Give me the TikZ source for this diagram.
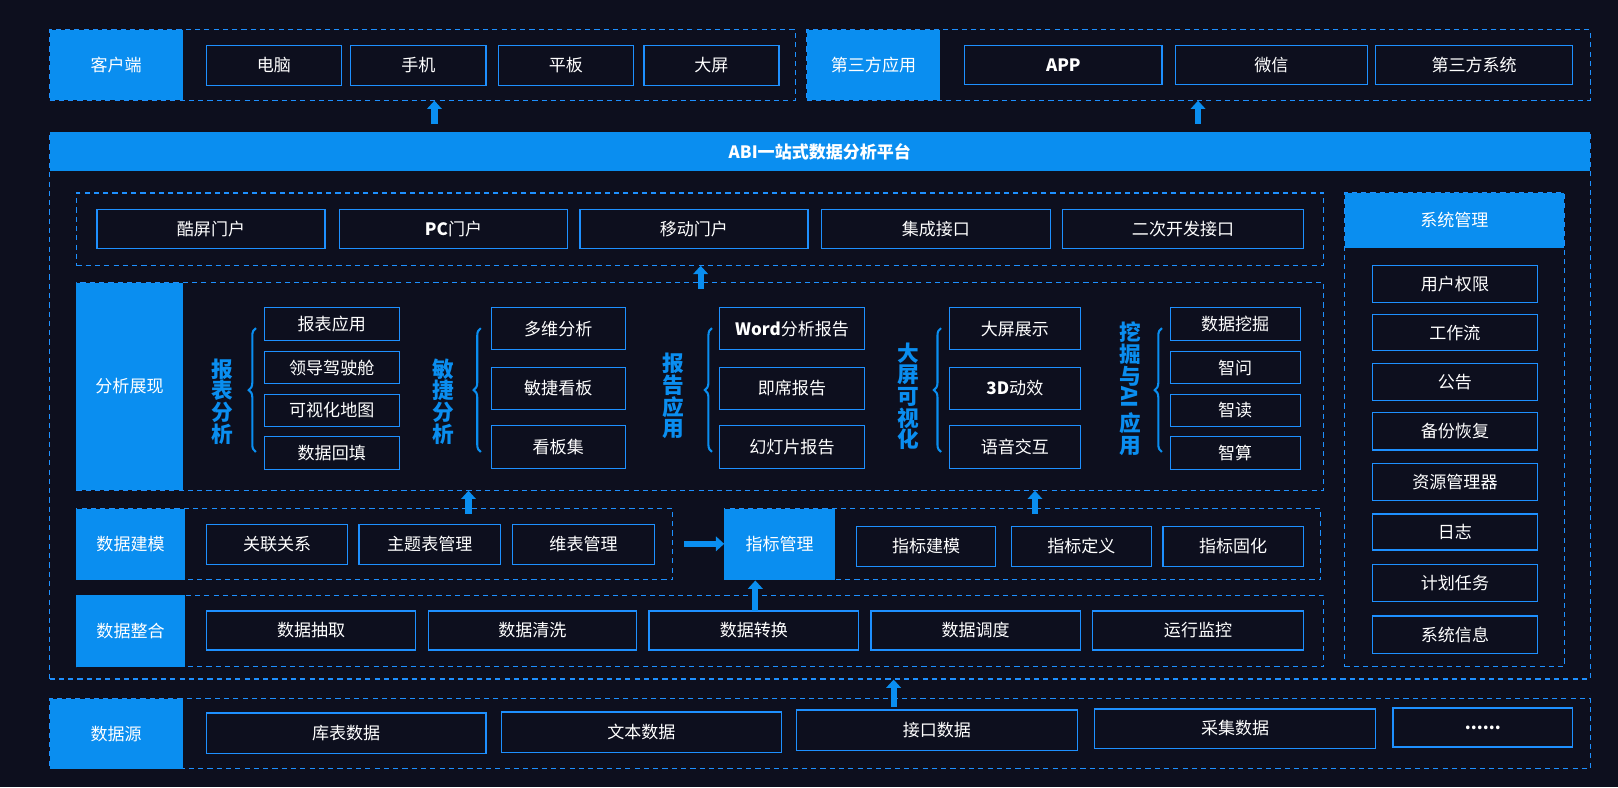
\documentclass[tikz,border=0pt]{standalone}
\usepackage{fontspec}
\setmainfont{Noto Sans CJK SC}
\usetikzlibrary{positioning, arrows.meta}
\definecolor{bgc}{HTML}{0D0F1E}
\definecolor{abl}{HTML}{0A8EF0}
\definecolor{lbl}{HTML}{1E90FF}
% box spanning (x1,y1)-(x2,y2)
\newcommand\bx[7]{\node[#1, minimum width=#4-#2, minimum height=#5-#3] (#7) at ({(#2+#4)/2},{(#3+#5)/2}) {#6};}
\tikzset{
  item/.style={draw=lbl, line width=1.2pt, fill=bgc, text=white, font=\fontsize{16.5}{18}\selectfont, inner sep=0pt},
  head/.style={fill=abl, text=white, font=\fontsize{16.5}{18}\selectfont, inner sep=0pt},
  frame/.style={draw=lbl, dashed, line width=1.1pt, dash pattern=on 5pt off 4pt, inner sep=0pt},
  vlab/.style={text=abl, font=\bfseries\fontsize{21}{21}\selectfont, align=center, inner sep=0pt},
  up/.style={-{Triangle[width=14pt,length=8pt]}, line width=6pt, abl},
  brc/.style={abl, line width=2pt, decorate}
}
\usetikzlibrary{decorations.pathreplacing}
\begin{document}
\begin{tikzpicture}[x=1pt, y=-1pt]
  \fill[bgc] (0,0) rectangle (1568,763);
  \useasboundingbox (0,0) rectangle (1568,763);

  % top row
  \bx{frame}{48}{29}{771}{97}{}{cf}
  \bx{head}{48}{29}{177}{97}{客户端}{client}
  \bx{item}{200}{44}{331}{83}{电脑}{pc}
  \bx{item}{340}{44}{471}{83}{手机}{phone}
  \bx{item}{483}{44}{614}{83}{平板}{pad}
  \bx{item}{624}{44}{755}{83}{大屏}{screen}
  \bx{frame}{782}{29}{1541}{97}{}{tf}
  \bx{head}{782}{29}{911}{97}{第三方应用}{third}
  \bx{item}{935}{44}{1126}{82}{\bfseries APP}{app}
  \bx{item}{1139}{44}{1325}{82}{微信}{wx}
  \bx{item}{1333}{44}{1524}{82}{第三方系统}{sys3}

  % platform
  \bx{frame}{48}{128}{1541}{658}{}{plat}
  \bx{head}{48}{128}{1541}{166}{\bfseries ABI一站式数据分析平台}{abi}

  % portals
  \bx{frame}{74}{187}{1283}{257}{}{portal}
  \bx{item}{94}{203}{315}{241}{酷屏门户}{p1}
  \bx{item}{329}{203}{550}{241}{\bfseries PC\mdseries 门户}{p2}
  \bx{item}{562}{203}{783}{241}{移动门户}{p3}
  \bx{item}{796}{203}{1018}{241}{集成接口}{p4}
  \bx{item}{1030}{203}{1263}{241}{二次开发接口}{p5}

  % analysis
  \bx{frame}{74}{274}{1283}{475}{}{ana}
  \bx{head}{74}{274}{177}{475}{分析展现}{anah}
  \node[vlab] (g1) at (215,389) {报\\表\\分\\析};
  \draw[brc, decoration={brace, amplitude=7pt}] (248,438) -- (248,318);
  \bx{item}{256}{298}{387}{330}{报表应用}{a11}
  \bx{item}{256}{341}{387}{372}{领导驾驶舱}{a12}
  \bx{item}{256}{382}{387}{413}{可视化地图}{a13}
  \bx{item}{256}{423}{387}{455}{数据回填}{a14}
  \node[vlab] (g2) at (430,389) {敏\\捷\\分\\析};
  \draw[brc, decoration={brace, amplitude=7pt}] (466,438) -- (466,318);
  \bx{item}{476}{298}{606}{339}{多维分析}{a21}
  \bx{item}{476}{356}{606}{397}{敏捷看板}{a22}
  \bx{item}{476}{412}{606}{454}{看板集}{a23}
  \node[vlab] (g3) at (653,384) {报\\告\\应\\用};
  \draw[brc, decoration={brace, amplitude=7pt}] (690,438) -- (690,318);
  \bx{item}{697}{298}{838}{339}{\bfseries Word\mdseries 分析报告}{a31}
  \bx{item}{697}{356}{838}{397}{即席报告}{a32}
  \bx{item}{697}{412}{838}{454}{幻灯片报告}{a33}
  \node[vlab] (g4) at (880,384) {大\\屏\\可\\视\\化};
  \draw[brc, decoration={brace, amplitude=7pt}] (912,438) -- (912,318);
  \bx{item}{920}{298}{1047}{339}{大屏展示}{a41}
  \bx{item}{920}{356}{1047}{397}{\bfseries 3D\mdseries 动效}{a42}
  \bx{item}{920}{412}{1047}{454}{语音交互}{a43}
  \node[vlab] (g5a) at (1095,343) {挖\\掘\\与};
  \node[vlab, rotate=-90] (g5b) at (1095,385) {AI};
  \node[vlab] (g5c) at (1095,421) {应\\用};
  \draw[brc, decoration={brace, amplitude=7pt}] (1126,438) -- (1126,318);
  \bx{item}{1134}{298}{1260}{330}{数据挖掘}{a51}
  \bx{item}{1134}{341}{1260}{372}{智问}{a52}
  \bx{item}{1134}{382}{1260}{413}{智读}{a53}
  \bx{item}{1134}{423}{1260}{455}{智算}{a54}

  % modeling and index
  \bx{frame}{74}{493}{652}{562}{}{model}
  \bx{head}{74}{493}{179}{562}{数据建模}{modelh}
  \bx{item}{200}{508}{337}{547}{关联关系}{m1}
  \bx{item}{348}{508}{485}{547}{主题表管理}{m2}
  \bx{item}{497}{508}{634}{547}{维表管理}{m3}
  \bx{frame}{702}{493}{1280}{562}{}{index}
  \bx{head}{702}{493}{809}{562}{指标管理}{indexh}
  \bx{item}{830}{510}{965}{549}{指标建模}{i1}
  \bx{item}{980}{510}{1116}{549}{指标定义}{i2}
  \bx{item}{1127}{510}{1263}{549}{指标固化}{i3}

  % integration
  \bx{frame}{74}{577}{1283}{646}{}{integ}
  \bx{head}{74}{577}{179}{646}{数据整合}{integh}
  \bx{item}{200}{592}{403}{630}{数据抽取}{d1}
  \bx{item}{415}{592}{617}{630}{数据清洗}{d2}
  \bx{item}{629}{592}{832}{630}{数据转换}{d3}
  \bx{item}{844}{592}{1047}{630}{数据调度}{d4}
  \bx{item}{1059}{592}{1263}{630}{运行监控}{d5}

  % system management
  \bx{frame}{1303}{187}{1516}{646}{}{sysm}
  \bx{head}{1303}{187}{1516}{240}{系统管理}{sysh}
  \bx{item}{1330}{257}{1490}{293}{用户权限}{s1}
  \bx{item}{1330}{305}{1490}{340}{工作流}{s2}
  \bx{item}{1330}{352}{1490}{388}{公告}{s3}
  \bx{item}{1330}{400}{1490}{436}{备份恢复}{s4}
  \bx{item}{1330}{449}{1490}{485}{资源管理器}{s5}
  \bx{item}{1330}{498}{1490}{533}{日志}{s6}
  \bx{item}{1330}{547}{1490}{583}{计划任务}{s7}
  \bx{item}{1330}{597}{1490}{633}{系统信息}{s8}

  % data source
  \bx{frame}{48}{677}{1541}{745}{}{src}
  \bx{head}{48}{677}{177}{745}{数据源}{srch}
  \bx{item}{200}{691}{471}{730}{库表数据}{r1}
  \bx{item}{486}{690}{757}{729}{文本数据}{r2}
  \bx{item}{772}{688}{1044}{727}{接口数据}{r3}
  \bx{item}{1061}{687}{1333}{725}{采集数据}{r4}
  \bx{item}{1350}{686}{1524}{724}{\bfseries ......}{r5}

  % arrows
  \coordinate (u1) at (421,120); \coordinate (u2) at (1161,120);
  \coordinate (u3) at (679,280); \coordinate (u4) at (454,498);
  \coordinate (u5) at (1003,498); \coordinate (u6) at (732,592);
  \coordinate (u7) at (866,685); \coordinate (u8) at (663,527);
  \draw[up] (u1) -- (u1 |- cf.south);
  \draw[up] (u2) -- (u2 |- tf.south);
  \draw[up] (u3) -- (u3 |- portal.south);
  \draw[up] (u4) -- (u4 |- ana.south);
  \draw[up] (u5) -- (u5 |- ana.south);
  \draw[up] (u6) -- (u6 |- index.south);
  \draw[up] (u7) -- (u7 |- plat.south);
  \draw[up] (u8) -- (indexh.west |- u8);
\end{tikzpicture}
\end{document}
